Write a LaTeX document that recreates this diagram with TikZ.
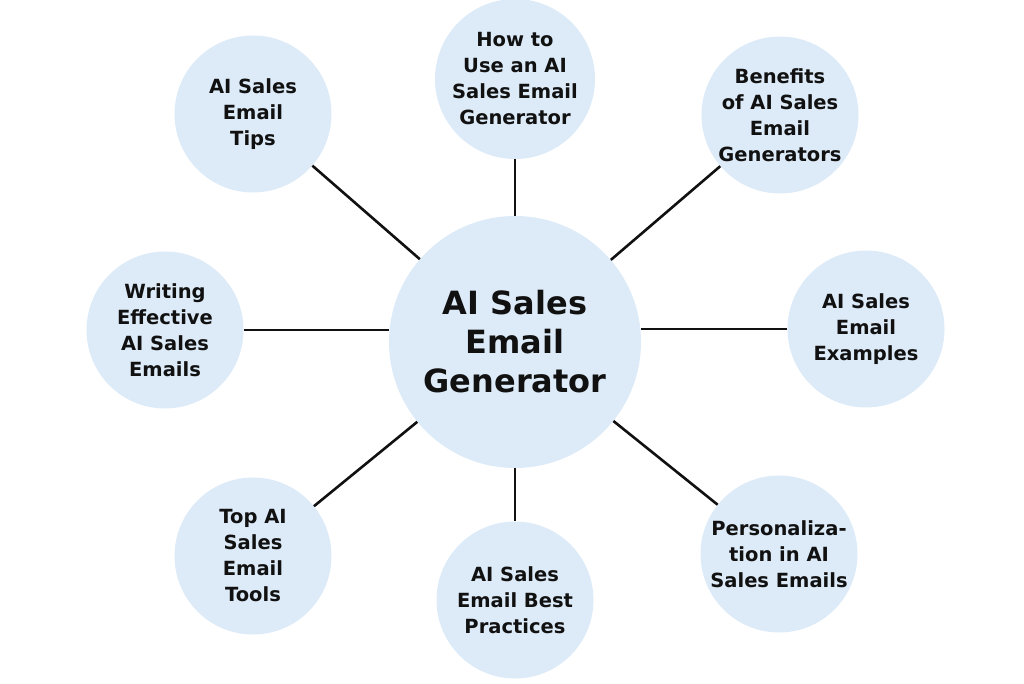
\documentclass[tikz,border=0pt]{standalone}
\usepackage{fontspec}
\setmainfont{DejaVu Sans}
\usetikzlibrary{positioning}
\definecolor{bubble}{RGB}{221,235,248}
\definecolor{ink}{RGB}{17,17,17}

\begin{document}
\begin{tikzpicture}[x=1pt,y=1pt,on grid,
    hub/.style={circle,fill=bubble,inner sep=0pt,minimum size=252pt,align=center,
      text=ink,font=\bfseries\fontsize{32}{39}\selectfont},
    topic/.style={circle,fill=bubble,inner sep=0pt,minimum size=157pt,align=center,
      text=ink,font=\bfseries\fontsize{19.5}{26}\selectfont},
    link/.style={draw=ink,line width=2.6pt}]
    \useasboundingbox (0,0) rectangle (1024,683);
    \node[hub](gen) at (515,341){AI Sales\\Email\\Generator};
    \node[topic,minimum size=160pt](howto)[above=263pt of gen]{How to\\Use an AI\\Sales Email\\Generator};
    \node[topic](tips)[above left=228pt and 262pt of gen]{AI Sales\\Email\\Tips};
    \node[topic](benefits)[above right=227pt and 265pt of gen]{Benefits\\of AI Sales\\Email\\Generators};
    \node[topic](writing)[above left=12pt and 350pt of gen]{Writing\\Effective\\AI Sales\\Emails};
    \node[topic](examples)[above right=13pt and 351pt of gen]{AI Sales\\Email\\Examples};
    \node[topic](tools)[below left=214pt and 262pt of gen]{Top AI\\Sales\\Email\\Tools};
    \node[topic](practices)[below=258pt of gen]{AI Sales\\Email Best\\Practices};
    \node[topic](personal)[below right=212pt and 264pt of gen]{Personaliza-\\tion in AI\\Sales Emails};
    \path[link]
    (gen) edge (howto)
          edge (tips)
          edge (benefits)
          edge (tools)
          edge (practices)
          edge (personal)
    (writing) edge (writing -| gen.west)
    (examples) edge (examples -| gen.east);
  \end{tikzpicture}
\end{document}
